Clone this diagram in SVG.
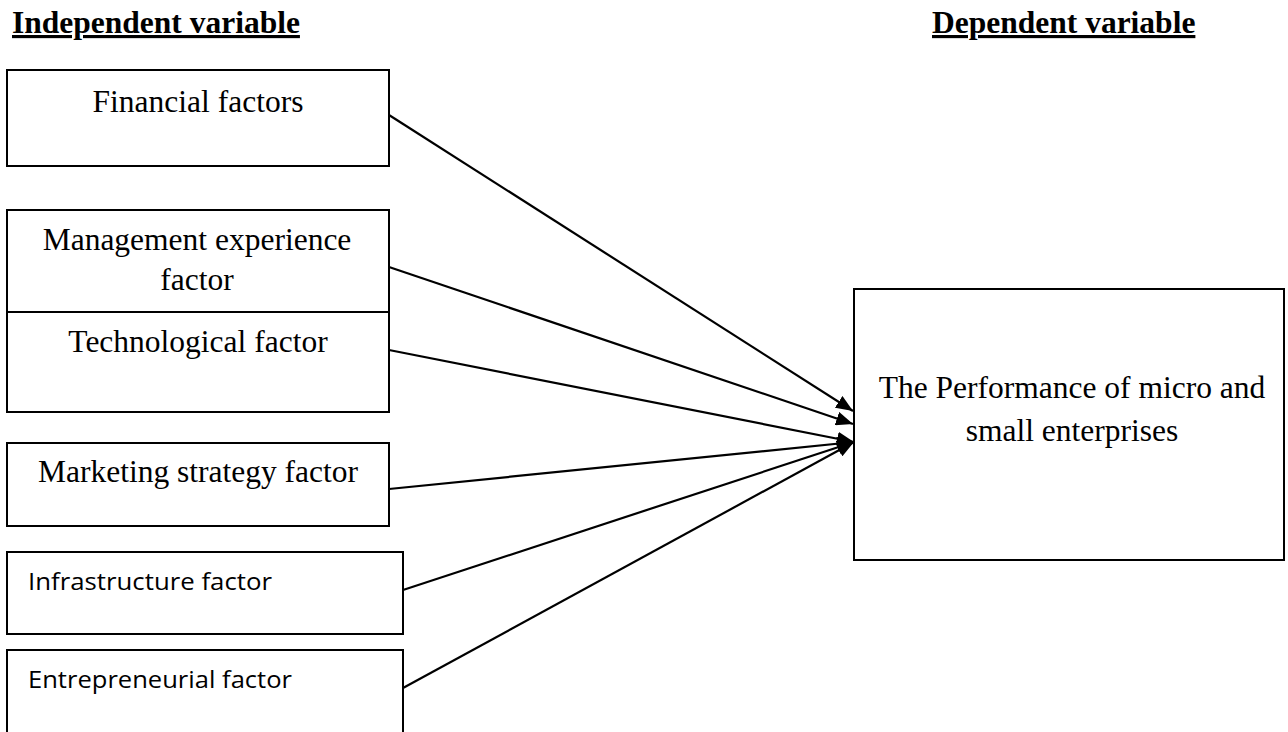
<svg xmlns="http://www.w3.org/2000/svg" width="1288" height="732" viewBox="0 0 1288 732">
<style>
.box{fill:#fff;stroke:#000;stroke-width:2}
.t{font-family:"Liberation Serif","Times New Roman",serif;font-size:31.5px;fill:#000}
.h{font-family:"Liberation Serif","Times New Roman",serif;font-size:31.5px;font-weight:bold;fill:#000;text-decoration:underline}
.s{font-family:"Open Sans","Liberation Sans",sans-serif;font-size:24px;fill:#000}
.c{stroke:#000;stroke-width:2.2;fill:none;marker-end:url(#ah)}
</style>
<defs>
<marker id="ah" viewBox="0 0 17 14" refX="17" refY="7" markerWidth="17" markerHeight="14" markerUnits="userSpaceOnUse" orient="auto">
<path d="M0,0 L17,7 L0,14 Z" fill="#000"/>
</marker>
</defs>
<rect width="1288" height="732" fill="#fff"/>
<g id="headings">
<text class="h" x="12" y="33">Independent variable</text>
<text class="h" x="932" y="33">Dependent variable</text>
</g>
<g id="connectors">
<line class="c" x1="389" y1="115" x2="853" y2="411"/>
<line class="c" x1="389" y1="267" x2="853" y2="424"/>
<line class="c" x1="389" y1="350" x2="854" y2="442"/>
<line class="c" x1="389" y1="489" x2="854" y2="442"/>
<line class="c" x1="403" y1="590" x2="854" y2="442"/>
<line class="c" x1="403" y1="688" x2="854" y2="442"/>
</g>
<g id="financial">
<rect class="box" x="7" y="70" width="382" height="96"/>
<text class="t" x="198" y="112" text-anchor="middle">Financial factors</text>
</g>
<g id="management">
<rect class="box" x="7" y="210" width="382" height="102"/>
<text class="t" x="197" y="250" text-anchor="middle">Management experience</text>
<text class="t" x="197" y="290" text-anchor="middle">factor</text>
</g>
<g id="technological">
<rect class="box" x="7" y="312" width="382" height="100"/>
<text class="t" x="198" y="352" text-anchor="middle">Technological factor</text>
</g>
<g id="marketing">
<rect class="box" x="7" y="443" width="382" height="83"/>
<text class="t" x="198" y="482" text-anchor="middle">Marketing strategy factor</text>
</g>
<g id="infrastructure">
<rect class="box" x="7" y="552" width="396" height="82"/>
<text class="s" x="28" y="590" textLength="244" lengthAdjust="spacingAndGlyphs">Infrastructure factor</text>
</g>
<g id="entrepreneurial">
<rect class="box" x="7" y="650" width="396" height="100"/>
<text class="s" x="28" y="688" textLength="264" lengthAdjust="spacingAndGlyphs">Entrepreneurial factor</text>
</g>
<g id="performance">
<rect class="box" x="854" y="289" width="430" height="271"/>
<text class="t" x="1072" y="398" text-anchor="middle">The Performance of micro and</text>
<text class="t" x="1072" y="441" text-anchor="middle">small enterprises</text>
</g>
</svg>
